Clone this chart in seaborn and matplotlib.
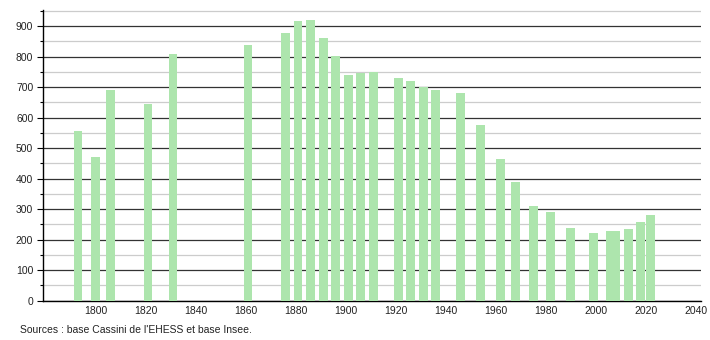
import matplotlib
matplotlib.use("Agg")
import matplotlib.pyplot as plt
import seaborn as sns
import pandas as pd
from matplotlib.ticker import MultipleLocator

years = [1793, 1800, 1806, 1821, 1831, 1861, 1876, 1881, 1886, 1891, 1896,
         1901, 1906, 1911, 1921, 1926, 1931, 1936, 1946, 1954, 1962, 1968,
         1975, 1982, 1990, 1999, 2006, 2008, 2013, 2018, 2022]
population = [556, 471, 691, 644, 809, 838, 878, 917, 920, 861, 802,
              740, 745, 751, 729, 720, 700, 691, 682, 576, 464, 388,
              310, 291, 238, 222, 229, 229, 235, 258, 281]
x_ticks = [1800, 1820, 1840, 1860, 1880, 1900, 1920, 1940, 1960, 1980, 2000, 2020, 2040]
y_ticks = [0, 100, 200, 300, 400, 500, 600, 700, 800, 900]
source_text = "Sources : base Cassini de l'EHESS et base Insee."

sns.set_style("white")
plt.rcParams['font.family'] = ['Liberation Sans', 'DejaVu Sans']

df = pd.DataFrame({"year": years, "pop": population})

fig = plt.figure(figsize=(7.1, 3.4), dpi=100)
ax = fig.add_axes([0.0606, 0.1156, 0.9264, 0.855])

sns.barplot(data=df, x="year", y="pop", native_scale=True, width=1.75,
            color="#ade5ad", saturation=1, linewidth=0, ax=ax, zorder=3)

ax.set_xlim(1779, 2042)
ax.set_ylim(0, 953)
ax.set_xticks(x_ticks)
ax.set_yticks(y_ticks)
ax.yaxis.set_minor_locator(MultipleLocator(50))
ax.set_xlabel("")
ax.set_ylabel("")

ax.grid(False)
ax.yaxis.grid(True, which="major", color="#333333", linewidth=0.9, zorder=1)
ax.yaxis.grid(True, which="minor", color="#cccccc", linewidth=0.9, zorder=1)
ax.set_axisbelow(True)

for s in ["top", "right"]:
    ax.spines[s].set_visible(False)
ax.spines["left"].set_color("#000000")
ax.spines["bottom"].set_color("#000000")
ax.spines["left"].set_linewidth(1.0)
ax.spines["bottom"].set_linewidth(1.0)

ax.tick_params(axis="y", which="major", length=4, width=0.8, color="#000000",
               labelsize=7.5, pad=3, left=True, labelcolor="#222222")
ax.tick_params(axis="y", which="minor", length=2, width=0.8, color="#000000", left=True)
ax.tick_params(axis="x", which="major", length=0, labelsize=7.5, pad=4, labelcolor="#222222")

fig.text(20 / 710, 1 - 330 / 340, source_text, fontsize=7.5, ha="left", va="center",
         color="#222222")

fig.savefig("out.png", dpi=100)
